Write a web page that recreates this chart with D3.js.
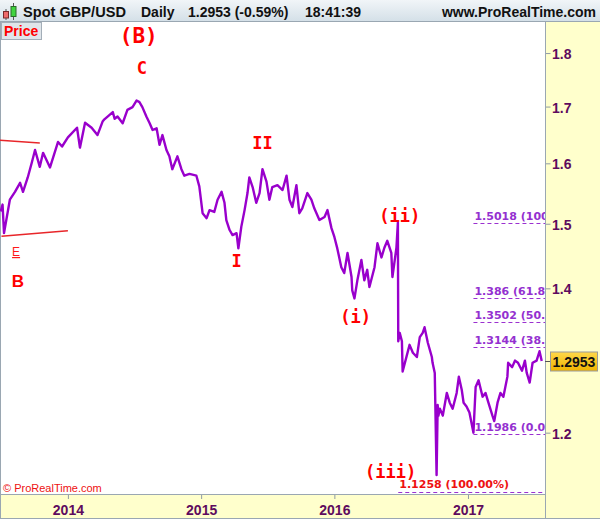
<!DOCTYPE html>
<html>
<head>
<meta charset="utf-8">
<script src="https://cdn.jsdelivr.net/npm/d3@7"></script>
<style>
  body { margin: 0; background: #fff; }
  svg { display: block; font-family: "Liberation Sans", Arial, sans-serif; }
</style>
</head>
<body>
<svg id="chart" width="600" height="519"></svg>
<script>
// daily close
var dates = ["2013-07-01","2013-07-06","2013-07-10","2013-07-26","2013-08-09","2013-08-23","2013-08-31","2013-09-13","2013-09-24","2013-10-03","2013-10-16","2013-10-25","2013-11-13","2013-12-05","2013-12-16",
  "2014-01-01","2014-01-26","2014-02-03","2014-02-17","2014-03-07","2014-03-23","2014-04-06","2014-04-11","2014-05-04","2014-05-09","2014-05-17","2014-05-31","2014-06-13","2014-06-27","2014-07-08","2014-07-16","2014-07-24","2014-08-04","2014-08-13","2014-08-21","2014-09-01","2014-09-09","2014-09-17","2014-09-28","2014-10-06","2014-10-14","2014-10-28","2014-11-08","2014-11-16","2014-11-30","2014-12-19","2014-12-27",
  "2015-01-05","2015-01-16","2015-01-24","2015-02-06","2015-02-15","2015-02-26","2015-03-06","2015-03-11","2015-03-20","2015-03-28","2015-04-08","2015-04-13","2015-04-21","2015-04-30","2015-05-08","2015-05-13","2015-05-22","2015-06-01","2015-06-10","2015-06-18","2015-06-29","2015-07-07","2015-07-15","2015-07-29","2015-08-12","2015-08-23","2015-08-31","2015-09-08","2015-09-19","2015-09-27","2015-10-05","2015-10-19","2015-10-30","2015-11-07","2015-11-21","2015-12-05","2015-12-13","2015-12-24",
  "2016-01-01","2016-01-09","2016-01-20","2016-01-28","2016-02-06","2016-02-17","2016-02-19","2016-02-25","2016-03-04","2016-03-15","2016-03-23","2016-03-31","2016-04-06","2016-04-20","2016-04-28","2016-05-09","2016-05-17","2016-05-25","2016-06-05","2016-06-08","2016-06-19","2016-06-23","2016-06-24","2016-06-28","2016-07-04","2016-07-06","2016-07-25","2016-08-03","2016-08-14","2016-08-22","2016-08-30","2016-09-04","2016-09-13","2016-09-24","2016-09-26","2016-10-02","2016-10-07","2016-10-10","2016-10-12","2016-10-16","2016-10-24","2016-11-04","2016-11-12","2016-11-20","2016-12-01","2016-12-07","2016-12-15","2016-12-20","2016-12-28",
  "2017-01-05","2017-01-16","2017-01-22","2017-01-30","2017-02-10","2017-02-18","2017-02-26","2017-03-09","2017-03-14","2017-03-23","2017-03-31","2017-04-08","2017-04-19","2017-04-21","2017-05-02","2017-05-10","2017-05-18","2017-05-29","2017-06-06","2017-06-11","2017-06-19","2017-06-27","2017-07-08","2017-07-16","2017-07-22"];
var closes = [1.520,1.531,1.485,1.539,1.552,1.567,1.552,1.576,1.601,1.623,1.594,1.618,1.593,1.637,1.629,
  1.645,1.662,1.627,1.671,1.662,1.649,1.673,1.677,1.690,1.678,1.682,1.670,1.694,1.699,1.711,1.708,1.699,1.682,1.670,1.658,1.661,1.632,1.649,1.623,1.612,1.590,1.612,1.590,1.579,1.582,1.579,1.561,
  1.517,1.509,1.522,1.519,1.539,1.552,1.534,1.506,1.490,1.482,1.485,1.461,1.495,1.522,1.550,1.576,1.560,1.534,1.550,1.590,1.569,1.539,1.560,1.563,1.555,1.579,1.539,1.527,1.563,1.517,1.525,1.550,1.539,1.525,1.506,1.511,1.522,1.493,
  1.479,1.461,1.432,1.423,1.454,1.417,1.397,1.385,1.412,1.443,1.412,1.428,1.402,1.432,1.469,1.447,1.462,1.473,1.454,1.417,1.462,1.502,1.323,1.335,1.323,1.281,1.318,1.307,1.301,1.329,1.335,1.343,1.321,1.301,1.293,1.279,1.147,1.236,1.222,1.231,1.222,1.252,1.239,1.231,1.252,1.274,1.256,1.239,1.234,
  1.226,1.200,1.260,1.269,1.247,1.252,1.239,1.222,1.215,1.239,1.252,1.247,1.274,1.293,1.287,1.296,1.293,1.282,1.296,1.279,1.266,1.293,1.296,1.309,1.2953];

var yTicks = [1.2, 1.4, 1.5, 1.6, 1.7, 1.8];
var yearTicks = ["2014-01-01", "2015-01-01", "2016-01-01", "2017-01-01"];
var lastPrice = 1.2953;

// fibonacci levels
var fibLevels = [1.5018, 1.386, 1.3502, 1.3144, 1.1986];
var fibLabels = ["1.5018 (100.00%)", "1.386 (61.80%)", "1.3502 (50.00%)", "1.3144 (38.20%)", "1.1986 (0.00%)"];
var extLevel = 1.1258, extLabel = "1.1258 (100.00%)";

// elliott wave labels: text, date, price
var waveText  = ["(B)", "C", "II", "I", "(ii)", "(i)", "(iii)"];
var waveDates = ["2014-07-14", "2014-07-23", "2015-06-18", "2015-04-08", "2016-06-28", "2016-02-28", "2016-06-03"];
var wavePrice = [1.8193, 1.760, 1.6246, 1.4322, 1.5027, 1.3491, 1.1433];

var parse = d3.timeParse("%Y-%m-%d");
var W = 600, H = 519;
var pLeft = 0, pRight = 545, pTop = 22, pBottom = 494;

var svg = d3.select("#chart");

var x = d3.scaleTime().domain([parse("2013-06-29"), parse("2017-07-31")]).range([pLeft, pRight]);
var y = d3.scaleLog().domain([1.1239, 1.8607]).range([pBottom, pTop]);

// panels
svg.append("rect").attr("x", 0).attr("y", 0).attr("width", W).attr("height", H).attr("fill", "#fff");
svg.append("rect").attr("x", pRight + 1).attr("y", pTop).attr("width", W - pRight - 1).attr("height", H - pTop).attr("fill", "#ffffcc");
svg.append("rect").attr("x", 0).attr("y", pBottom + 1).attr("width", pRight + 1).attr("height", H - pBottom - 1).attr("fill", "#ffffcc");

// header
var defs = svg.append("defs");
var hg = defs.append("linearGradient").attr("id", "hdr").attr("x1", 0).attr("y1", 0).attr("x2", 0).attr("y2", 1);
hg.append("stop").attr("offset", "0%").attr("stop-color", "#f1f5f8");
hg.append("stop").attr("offset", "100%").attr("stop-color", "#d3dfe7");
var gg = defs.append("linearGradient").attr("id", "gold").attr("x1", 0).attr("y1", 0).attr("x2", 0).attr("y2", 1);
gg.append("stop").attr("offset", "0%").attr("stop-color", "#ffd84a");
gg.append("stop").attr("offset", "100%").attr("stop-color", "#f0b400");
defs.append("clipPath").attr("id", "plotclip").append("rect")
  .attr("x", pLeft).attr("y", pTop).attr("width", pRight - pLeft).attr("height", bottomOf());
function bottomOf() { return pBottom - pTop; }

svg.append("rect").attr("x", 0).attr("y", 0).attr("width", W).attr("height", pTop).attr("fill", "url(#hdr)");
svg.append("line").attr("x1", 0).attr("x2", W).attr("y1", pTop - 0.5).attr("y2", pTop - 0.5).attr("stroke", "#9aa7b2");

// little candle icon
svg.append("line").attr("x1", 6).attr("x2", 6).attr("y1", 9).attr("y2", 20).attr("stroke", "#555");
svg.append("rect").attr("x", 3.5).attr("y", 11.5).attr("width", 5).attr("height", 6.5).attr("fill", "#ee6b6b").attr("stroke", "#7a2a2a");
svg.append("line").attr("x1", 13.5).attr("x2", 13.5).attr("y1", 3).attr("y2", 20).attr("stroke", "#555");
svg.append("rect").attr("x", 11).attr("y", 6.5).attr("width", 5).attr("height", 10).attr("fill", "#3fd43f").attr("stroke", "#2a6a2a");

var hdr = svg.append("g").attr("font-size", 14).attr("font-weight", "bold").attr("fill", "#111");
hdr.append("text").attr("x", 23).attr("y", 17).attr("font-size", 14.6).text("Spot GBP/USD");
hdr.append("text").attr("x", 141).attr("y", 17).text("Daily");
hdr.append("text").attr("x", 188).attr("y", 17).text("1.2953 (-0.59%)");
hdr.append("text").attr("x", 305).attr("y", 17).text("18:41:39");
hdr.append("text").attr("x", 596).attr("y", 17).attr("text-anchor", "end").text("www.ProRealTime.com");

// right axis
var yAxis = svg.append("g").attr("transform", "translate(" + pRight + ",0)")
  .call(d3.axisRight(y).tickValues(yTicks).tickSize(5).tickPadding(2).tickFormat(d3.format("")));
yAxis.select(".domain").remove();
yAxis.selectAll(".tick line").attr("stroke", "#8f9ba5").attr("transform", "translate(0.5,0)");
yAxis.selectAll(".tick text").attr("font-size", 14).attr("font-weight", "bold")
  .attr("fill", "#5e0b5e").attr("font-family", "Liberation Sans, Arial, sans-serif").attr("dy", "0.4em");

// bottom axis
var xAxis = svg.append("g").attr("transform", "translate(0," + pBottom + ")")
  .call(d3.axisBottom(x).tickValues(yearTicks.map(parse)).tickSize(5).tickPadding(6).tickFormat(d3.timeFormat("%Y")));
xAxis.select(".domain").remove();
xAxis.selectAll(".tick line").attr("stroke", "#8f9ba5");
xAxis.selectAll(".tick text").attr("font-size", 14).attr("font-weight", "bold")
  .attr("fill", "#5e0b5e").attr("font-family", "Liberation Sans, Arial, sans-serif");

// frame
svg.append("line").attr("x1", 0.5).attr("x2", 0.5).attr("y1", pTop).attr("y2", H).attr("stroke", "#9aa7b2");
svg.append("line").attr("x1", pRight + 0.5).attr("x2", pRight + 0.5).attr("y1", pTop).attr("y2", H).attr("stroke", "#9aa7b2");
svg.append("line").attr("x1", 0).attr("x2", pRight).attr("y1", pBottom + 0.5).attr("y2", pBottom + 0.5).attr("stroke", "#9aa7b2");
svg.append("line").attr("x1", 0).attr("x2", W).attr("y1", H - 0.5).attr("y2", H - 0.5).attr("stroke", "#9aa7b2");

var plot = svg.append("g").attr("clip-path", "url(#plotclip)");

// fibonacci lines
var fibStart = parse("2017-01-16");
fibLevels.forEach(function(v, i) {
  plot.append("line").attr("x1", x(fibStart)).attr("x2", pRight)
    .attr("y1", Math.round(y(v)) + 0.5).attr("y2", Math.round(y(v)) + 0.5)
    .attr("stroke", "#9b30d0").attr("stroke-dasharray", "4,3");
  plot.append("text").attr("x", x(fibStart) + 1).attr("y", Math.round(y(v)) - 3)
    .attr("font-family", "DejaVu Sans, Verdana, sans-serif").attr("font-size", 11).attr("font-weight", "bold")
    .attr("fill", "#9430d0").text(fibLabels[i]);
});
var extStart = parse("2016-06-24");
plot.append("line").attr("x1", x(extStart)).attr("x2", pRight)
  .attr("y1", Math.round(y(extLevel)) + 0.5).attr("y2", Math.round(y(extLevel)) + 0.5)
  .attr("stroke", "#9b30d0").attr("stroke-dasharray", "4,3");
plot.append("text").attr("x", x(extStart) + 1).attr("y", Math.round(y(extLevel)) - 4)
  .attr("font-family", "DejaVu Sans, Verdana, sans-serif").attr("font-size", 11).attr("font-weight", "bold")
  .attr("fill", "#ee1111").text(extLabel);

// price line
var series = dates.map(function(d, i) { return {date: parse(d), value: closes[i]}; });
plot.append("path").datum(series)
  .attr("fill", "none").attr("stroke", "#9900cc").attr("stroke-width", 2.4).attr("stroke-linejoin", "round")
  .attr("d", d3.line().x(function(d) { return x(d.date); }).y(function(d) { return y(d.value); }));

// red trend lines at the left
var trendA = [["2013-06-29", 1.640], ["2013-10-16", 1.635]];
var trendB = [["2013-07-03", 1.480], ["2014-01-01", 1.489]];
[trendA, trendB].forEach(function(t) {
  plot.append("line").attr("x1", x(parse(t[0][0]))).attr("y1", y(t[0][1]))
    .attr("x2", x(parse(t[1][0]))).attr("y2", y(t[1][1]))
    .attr("stroke", "#e8262a").attr("stroke-width", 1.5);
});

// wave labels
waveText.forEach(function(t, i) {
  plot.append("text").attr("x", x(parse(waveDates[i]))).attr("y", y(wavePrice[i]))
    .attr("text-anchor", "middle").attr("font-family", "DejaVu Sans Mono, Liberation Mono, monospace")
    .attr("font-weight", "bold").attr("font-size", t === "(B)" ? 21 : 17)
    .attr("fill", "#ff0000").text(t);
});
plot.append("text").attr("x", x(parse("2013-08-12"))).attr("y", y(1.4492)).attr("text-anchor", "middle")
  .attr("font-size", 12).attr("fill", "#ff1a1a").attr("text-decoration", "underline").text("E");
plot.append("text").attr("x", x(parse("2013-08-17"))).attr("y", y(1.4021)).attr("text-anchor", "middle")
  .attr("font-size", 17).attr("font-weight", "bold").attr("fill", "#ff0000").text("B");

// watermark
svg.append("text").attr("x", 3).attr("y", 492).attr("font-size", 11).attr("fill", "#ee1111").text("\u00a9 ProRealTime.com");

// "Price" tab
svg.append("rect").attr("x", 1.5).attr("y", pTop + 0.5).attr("width", 40).attr("height", 17)
  .attr("fill", "#dfe5ea").attr("stroke", "#a3aeb8");
svg.append("text").attr("x", 4).attr("y", pTop + 14).attr("font-size", 14).attr("font-weight", "bold")
  .attr("fill", "#ff0000").text("Price");

// current price marker
var yl = Math.round(y(lastPrice)) + 0.5;
svg.append("line").attr("x1", pRight).attr("x2", 551).attr("y1", yl).attr("y2", yl).attr("stroke", "#555");
svg.append("rect").attr("x", 550.5).attr("y", yl - 9.5).attr("width", 47).attr("height", 19)
  .attr("fill", "url(#gold)").attr("stroke", "#9a9a9a");
svg.append("text").attr("x", 574).attr("y", yl + 5).attr("text-anchor", "middle")
  .attr("font-size", 14).attr("font-weight", "bold").attr("fill", "#111").text(lastPrice.toFixed(4));
</script>
</body>
</html>
